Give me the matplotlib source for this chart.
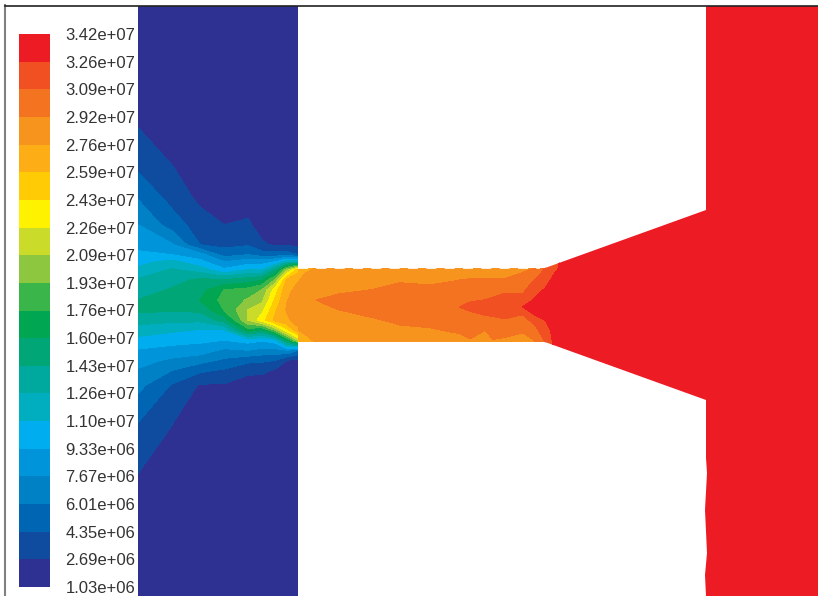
import numpy as np
import matplotlib
matplotlib.use("Agg")
import matplotlib.pyplot as plt
from matplotlib.patches import Polygon, Rectangle
from matplotlib.colors import ListedColormap

# colour bar, top value first
bar_labels = ["3.42e+07", "3.26e+07", "3.09e+07", "2.92e+07", "2.76e+07", "2.59e+07", "2.43e+07",
              "2.26e+07", "2.09e+07", "1.93e+07", "1.76e+07", "1.60e+07", "1.43e+07", "1.26e+07",
              "1.10e+07", "9.33e+06", "7.67e+06", "6.01e+06", "4.35e+06", "2.69e+06", "1.03e+06"]
bar_colors = ["#ED1C24", "#F15023", "#F47320", "#F7941D", "#FDAE17", "#FFCB05", "#FFF200", "#CBDB2A",
              "#8DC63F", "#39B54A", "#00A651", "#00A676", "#00A99D", "#00AEC0", "#00AEEF", "#0095DA",
              "#0080C5", "#0066B3", "#0F4C9F", "#2E3192"]

levels = np.array([float(s) for s in bar_labels[::-1]])

# left chamber, values are read as position on the colour bar (0 = bottom, 20 = top)
left_x = [138, 172, 200, 224, 248, 262, 275, 287, 298]
left_y = [6, 128, 170, 200, 225, 245, 255, 262, 270, 280, 290, 300, 310, 320, 330, 340, 350, 360, 370, 385, 420, 473, 596]
left_band = [
    [.3, 1.0, 1.9, 3.0, 4.0, 4.7, 5.2, 5.7, 6.2, 7.1, 7.5, 8.0, 8.2, 7.4, 6.5, 5.7, 4.9, 4.4, 3.9, 3.3, 2.05, 1.0, .3],
    [.3, .6, 1.05, 1.7, 2.5, 4.1, 5.0, 6.3, 7.1, 7.6, 8.1, 8.4, 8.1, 7.2, 6.2, 5.3, 4.7, 3.8, 3.0, 1.9, 1.05, .5, .3],
    [.2, .4, .6, .8, 1.5, 2.0, 4.4, 5.3, 6.5, 8.2, 8.6, 9.0, 8.2, 7.2, 5.9, 5.2, 4.5, 3.4, 2.2, .9, .5, .3, .2],
    [.2, .3, .4, .6, 1.0, 1.7, 2.6, 4.0, 5.2, 8.0, 10, 10.3, 10, 8.4, 5.9, 5.0, 3.8, 2.8, 1.9, .9, .4, .3, .2],
    [.2, .3, .4, .7, 1.1, 1.9, 3.0, 4.5, 6.0, 8.5, 10.3, 11.1, 12, 12, 9.5, 5.4, 4.0, 2.3, 1.2, .6, .3, .2, .2],
    [.2, .2, .3, .4, .7, 1.1, 2.5, 4.5, 6, 8.9, 11, 11.7, 12.7, 13.5, 8.7, 5.1, 3.7, 2.2, 1.2, .5, .2, .2, .2],
    [.2, .2, .2, .3, .5, .9, 2.5, 5, 8, 11, 13.4, 14.1, 14.8, 15.2, 11, 5.5, 3.7, 2, .9, .4, .2, .2, .2],
    [.2, .2, .2, .3, .4, .9, 2.5, 6.5, 11.5, 15.2, 15.7, 15.95, 16.1, 15.8, 13.7, 9, 4, 1, .5, .3, .2, .2, .2],
    [.2, .2, .2, .2, .3, .7, 2, 6.5, 14.5, 15.9, 16.3, 16.6, 16.6, 16.4, 15.8, 12, 3, .7, .3, .2, .2, .2, .2],
]

# neck and right chamber
right_x = [298, 305, 317, 340, 373, 400, 430, 460, 470, 485, 493, 505, 523, 535, 545, 555, 570, 706, 818]
right_y = [268, 275, 283, 292, 300, 307, 315, 322, 330, 342]
right_band = [
    [15, 15.5, 16, 16.5, 16.7, 16.7, 16.5, 16.3, 16, 14.5],
    [15.6, 16.1, 16.4, 16.6, 16.8, 16.7, 16.5, 16.4, 16.2, 15.6],
    [16.1, 16.2, 16.4, 16.7, 17.0, 16.8, 16.6, 16.5, 16.3, 16.1],
    [16.1, 16.2, 16.5, 16.9, 17.3, 17.1, 16.8, 16.5, 16.3, 16.1],
    [16.2, 16.4, 16.7, 17.1, 17.4, 17.4, 17.1, 16.8, 16.4, 16.1],
    [16.2, 16.5, 17, 17.3, 17.6, 17.5, 17.3, 17.1, 16.8, 16.2],
    [16.3, 16.6, 16.9, 17.3, 17.7, 17.7, 17.4, 17.2, 16.9, 16.3],
    [16.4, 16.8, 17.1, 17.5, 17.8, 18.0, 17.8, 17.4, 17.15, 16.6],
    [16.4, 16.8, 17.2, 17.5, 17.9, 18.2, 17.8, 17.5, 17.25, 16.9],
    [16.5, 16.8, 17.2, 17.7, 18, 18.3, 18, 17.4, 17, 16.5],
    [16.5, 16.8, 17.2, 17.8, 18.1, 18.4, 18.1, 17.5, 17.3, 16.9],
    [16.5, 16.8, 17.2, 17.9, 18.4, 18.6, 18.2, 17.8, 17.4, 16.7],
    [16.8, 17.1, 17.5, 17.9, 18.4, 19, 17.95, 17.5, 17.1, 16.6],
    [17, 17.7, 18.2, 18.7, 19.1, 19.5, 19.0, 18.2, 17.7, 16.9],
    [18, 18.3, 18.7, 19.2, 19.5, 19.6, 19.3, 18.9, 18.5, 18],
    [18.7, 19.1, 19.5, 19.6, 19.7, 19.7, 19.6, 19.5, 19.4, 19.3],
    [19.9, 19.9, 19.9, 19.9, 19.9, 19.9, 19.9, 19.9, 19.9, 19.9],
    [19.9, 19.9, 19.9, 19.9, 19.9, 19.9, 19.9, 19.9, 19.9, 19.9],
    [19.9, 19.9, 19.9, 19.9, 19.9, 19.9, 19.9, 19.9, 19.9, 19.9],
]

# outline of neck + right chamber
outline_x = [298, 545, 706, 706, 818, 818, 706, 705, 707, 705, 707, 706, 706, 545, 298]
outline_y = [268, 268, 210, 6, 6, 596, 596, 575, 553, 510, 473, 458, 400, 342, 342]


def to_pressure(band):
    return np.interp(band, np.arange(len(levels)), levels)


fig = plt.figure(figsize=(8.18, 5.96), dpi=100)
ax = fig.add_axes([0, 0, 1, 1])
ax.set_xlim(0, 818)
ax.set_ylim(596, 0)
ax.axis("off")

colors = bar_colors[::-1]

left_cs = ax.contourf(left_x, left_y, to_pressure(np.array(left_band).T), levels=levels, colors=colors)
left_cs.set_edgecolor("face")
left_cs.set_linewidth(0.4)
left_clip = Rectangle((left_x[0], left_y[0]), left_x[-1] - left_x[0], left_y[-1] - left_y[0],
                      transform=ax.transData, fill=False, edgecolor="none")
ax.add_patch(left_clip)
left_cs.set_clip_path(left_clip)

# pad the neck table up and down so the grid covers the whole right chamber
pad = np.array(right_band).T
pad = np.vstack([pad[0], pad, pad[-1]])
grid_y = [6] + right_y + [596]
cs = ax.contourf(right_x, grid_y, to_pressure(pad), levels=levels, colors=colors)
cs.set_edgecolor("face")
cs.set_linewidth(0.4)
clip = Polygon(np.column_stack([outline_x, outline_y]), transform=ax.transData, fill=False, edgecolor="none")
ax.add_patch(clip)
cs.set_clip_path(clip)

# white nicks along the top of the neck
ax.plot([298, 540], [268, 268], color="white", lw=1.2, ls=(0, (6, 5)), zorder=5)

# frame
ax.plot([5, 5], [5, 596], color="#808080", lw=1.5, zorder=6)
ax.plot([5, 818], [5.5, 5.5], color="#222222", lw=1.2, zorder=6)

# colour bar
bar_edges = np.linspace(34, 587, len(bar_colors) + 1)
ax.pcolormesh([19, 50], bar_edges, np.arange(len(bar_colors)).reshape(-1, 1),
              cmap=ListedColormap(bar_colors), shading="flat")
for y, s in zip(bar_edges, bar_labels):
    ax.text(65.5, y + 1.5, s, fontsize=12, family="Liberation Sans", color="#333333", va="center", ha="left")

fig.savefig("out.png", dpi=100)
